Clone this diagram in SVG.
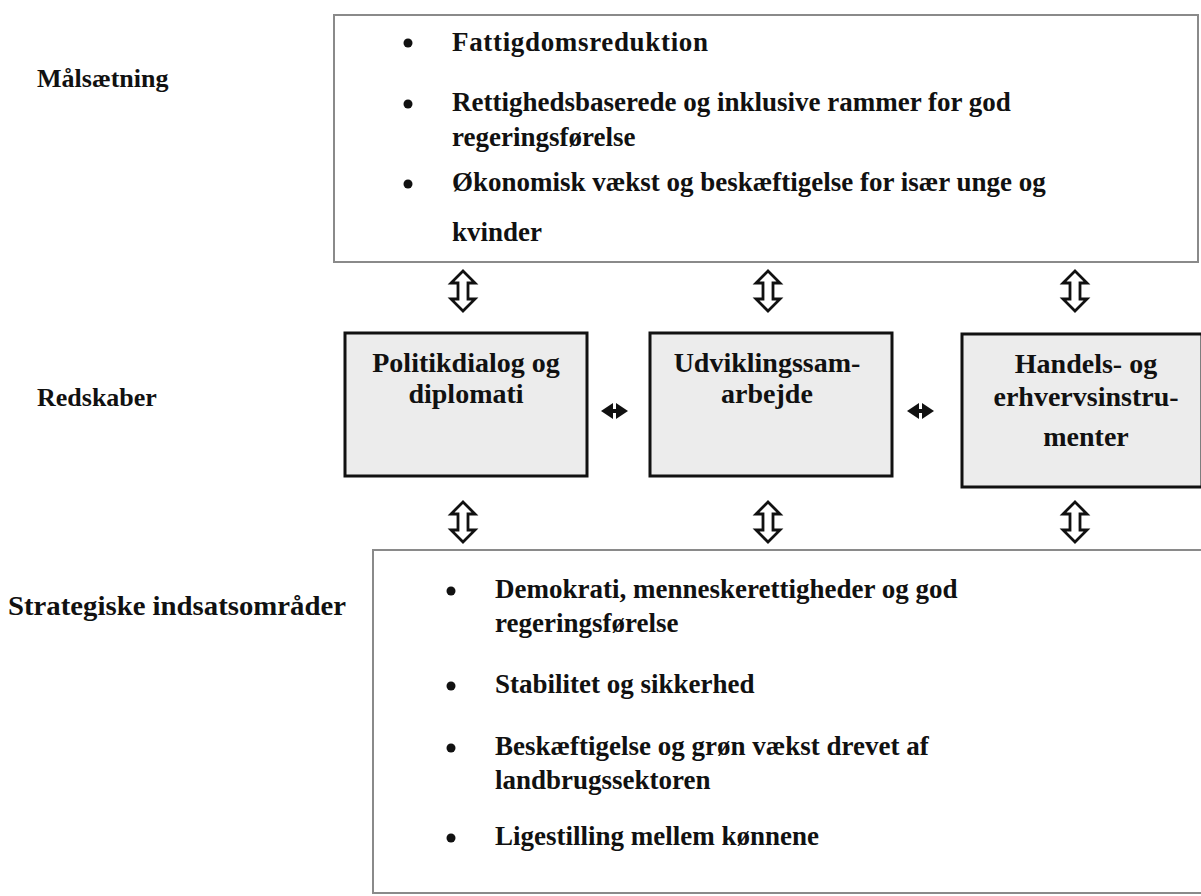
<svg xmlns="http://www.w3.org/2000/svg" width="1201" height="896" viewBox="0 0 1201 896">
<style>
text{font-family:"Liberation Serif","Times New Roman",serif;font-weight:bold;font-size:27px;fill:#111}
.lab{font-size:26px}
.box{font-size:28px;text-anchor:middle}
.frame{fill:#fff;stroke:#8a8a8a;stroke-width:2}
.tool{fill:#ececec;stroke:#111;stroke-width:3}
.bul{fill:#111}
.dbl{fill:#fff;stroke:#111;stroke-width:2.8;stroke-linejoin:miter}
.sol{fill:#111}
</style>
<rect width="1201" height="896" fill="#fff"/>
<g id="labels">
<text class="lab" x="37" y="87">Målsætning</text>
<text class="lab" x="37" y="406">Redskaber</text>
<text x="8" y="615" textLength="338" lengthAdjust="spacingAndGlyphs">Strategiske indsatsområder</text>
</g>
<g id="goal">
<rect class="frame" x="334" y="15" width="864" height="247"/>
<circle class="bul" cx="408" cy="43" r="4.5"/>
<text x="452" y="51" textLength="256">Fattigdomsreduktion</text>
<circle class="bul" cx="408" cy="104" r="4.5"/>
<text x="452" y="111">Rettighedsbaserede og inklusive rammer for god</text>
<text x="452" y="146">regeringsførelse</text>
<circle class="bul" cx="408" cy="184" r="4.5"/>
<text x="452" y="191">Økonomisk vækst og beskæftigelse for især unge og</text>
<text x="452" y="241">kvinder</text>
</g>
<g id="tool1">
<rect class="tool" x="345" y="333" width="242" height="143"/>
<text class="box" x="466" y="372">Politikdialog og</text>
<text class="box" x="466" y="403">diplomati</text>
</g>
<g id="tool2">
<rect class="tool" x="650" y="333" width="242" height="143"/>
<text class="box" x="767" y="372">Udviklingssam-</text>
<text class="box" x="767" y="403">arbejde</text>
</g>
<g id="tool3">
<rect class="tool" x="962" y="334" width="240" height="153"/>
<text class="box" x="1086" y="373">Handels- og</text>
<text class="box" x="1086" y="406">erhvervsinstru-</text>
<text class="box" x="1086" y="446">menter</text>
</g>
<g id="areas">
<rect class="frame" x="373" y="550" width="830" height="343"/>
<circle class="bul" cx="451" cy="591" r="4.5"/>
<text x="495" y="598">Demokrati, menneskerettigheder og god</text>
<text x="495" y="632">regeringsførelse</text>
<circle class="bul" cx="451" cy="686" r="4.5"/>
<text x="495" y="693">Stabilitet og sikkerhed</text>
<circle class="bul" cx="451" cy="748" r="4.5"/>
<text x="495" y="755">Beskæftigelse og grøn vækst drevet af</text>
<text x="495" y="789">landbrugssektoren</text>
<circle class="bul" cx="451" cy="838" r="4.5"/>
<text x="495" y="845">Ligestilling mellem kønnene</text>
</g>
<g id="connectors">
<path class="dbl" d="M463,271 L475,283 L468,283 L468,299 L475,299 L463,311 L451,299 L458,299 L458,283 L451,283 Z"/>
<path class="dbl" d="M768,271 L780,283 L773,283 L773,299 L780,299 L768,311 L756,299 L763,299 L763,283 L756,283 Z"/>
<path class="dbl" d="M1075,271 L1087,283 L1080,283 L1080,299 L1087,299 L1075,311 L1063,299 L1070,299 L1070,283 L1063,283 Z"/>
<path class="dbl" d="M463,502 L475,514 L468,514 L468,530 L475,530 L463,542 L451,530 L458,530 L458,514 L451,514 Z"/>
<path class="dbl" d="M768,502 L780,514 L773,514 L773,530 L780,530 L768,542 L756,530 L763,530 L763,514 L756,514 Z"/>
<path class="dbl" d="M1075,502 L1087,514 L1080,514 L1080,530 L1087,530 L1075,542 L1063,530 L1070,530 L1070,514 L1063,514 Z"/>
<path class="sol" d="M601,411 L613,403 L613,409 L616,409 L616,403 L628,411 L616,419 L616,413 L613,413 L613,419 Z"/>
<path class="sol" d="M907,411 L919,403 L919,409 L922,409 L922,403 L934,411 L922,419 L922,413 L919,413 L919,419 Z"/>
</g>
</svg>
